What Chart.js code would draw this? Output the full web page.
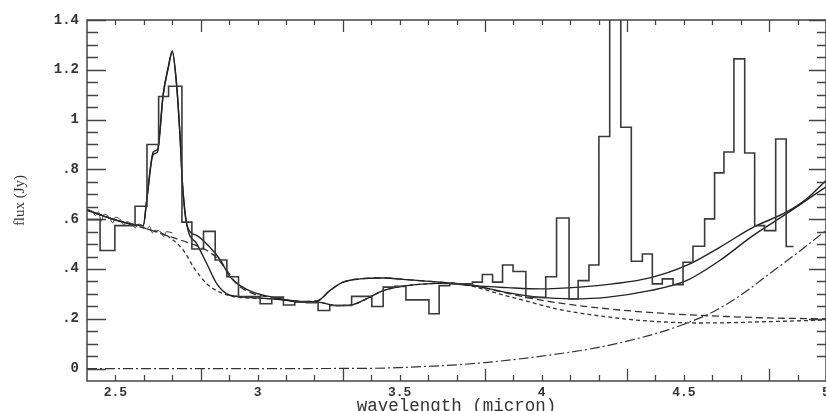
<!DOCTYPE html>
<html>
<head>
<meta charset="utf-8">
<script src="https://cdn.jsdelivr.net/npm/chart.js@4.4.1/dist/chart.umd.min.js"></script>
<style>
  html, body { margin: 0; padding: 0; background: #fff; overflow: hidden; }
  #wrap { width: 826px; height: 411px; position: relative; }
</style>
</head>
<body>
<div id="wrap"><canvas id="fluxChart"></canvas></div>
<script>
// binned spectrum: bin edges (micron) and flux per bin (Jy)
const binEdges = [2.400, 2.446, 2.498, 2.569, 2.611, 2.652, 2.687, 2.734, 2.769, 2.810,
  2.851, 2.892, 2.933, 3.009, 3.050, 3.091, 3.131, 3.172, 3.213, 3.254,
  3.331, 3.402, 3.442, 3.483, 3.522, 3.603, 3.639, 3.676, 3.756, 3.791,
  3.827, 3.862, 3.899, 3.944, 4.014, 4.052, 4.096, 4.128, 4.166, 4.201,
  4.239, 4.278, 4.315, 4.354, 4.389, 4.424, 4.462, 4.497, 4.532, 4.573,
  4.608, 4.641, 4.676, 4.714, 4.749, 4.784, 4.823, 4.860, 4.886];
const binFlux = [0.598, 0.474, 0.574, 0.652, 0.900, 1.093, 1.134, 0.588, 0.480, 0.551,
  0.436, 0.369, 0.289, 0.260, 0.287, 0.255, 0.268, 0.265, 0.233, 0.253,
  0.290, 0.249, 0.327, 0.330, 0.276, 0.220, 0.333, 0.340, 0.347, 0.378,
  0.347, 0.416, 0.390, 0.286, 0.369, 0.605, 0.280, 0.353, 0.416, 0.932,
  1.600, 0.969, 0.431, 0.460, 0.340, 0.360, 0.337, 0.427, 0.491, 0.601,
  0.786, 0.870, 1.244, 0.866, 0.574, 0.554, 0.922, 0.490];

// high resolution spectrum (short wavelength end)
const specWl = [2.40, 2.42, 2.43, 2.44, 2.45, 2.46, 2.48, 2.49, 2.50, 2.52, 2.53, 2.54,
  2.56, 2.57, 2.58, 2.60, 2.61, 2.62, 2.63, 2.64, 2.66, 2.67, 2.68, 2.70];
const specFlux = [0.640, 0.630, 0.615, 0.630, 0.592, 0.620, 0.605, 0.585, 0.608, 0.595, 0.575, 0.590,
  0.578, 0.565, 0.580, 0.570, 0.560, 0.572, 0.545, 0.555, 0.548, 0.530, 0.550, 0.545];

// model 1 (solid)
const model1Wl = [2.40, 2.47, 2.54, 2.598, 2.61, 2.633, 2.648, 2.668, 2.686, 2.700, 2.715, 2.727,
  2.736, 2.752, 2.787, 2.830, 2.869, 2.904, 2.939, 2.986, 3.056, 3.162, 3.213, 3.254,
  3.301, 3.360, 3.442, 3.536, 3.641, 3.758, 3.880, 3.993, 4.134, 4.251, 4.380, 4.509,
  4.626, 4.743, 4.860, 4.930, 5.00];
const model1Flux = [0.637, 0.608, 0.584, 0.574, 0.675, 0.870, 0.880, 1.100, 1.210, 1.277, 1.143, 0.940,
  0.740, 0.574, 0.534, 0.490, 0.436, 0.367, 0.333, 0.306, 0.286, 0.266, 0.273, 0.313,
  0.347, 0.360, 0.364, 0.356, 0.347, 0.333, 0.325, 0.320, 0.327, 0.340, 0.364, 0.414,
  0.487, 0.567, 0.628, 0.680, 0.755];

// model 2 (solid)
const model2Wl = [2.40, 2.47, 2.54, 2.598, 2.61, 2.633, 2.648, 2.668, 2.686, 2.700, 2.715, 2.727,
  2.736, 2.752, 2.787, 2.822, 2.857, 2.892, 2.939, 3.050, 3.149, 3.219, 3.278, 3.336,
  3.383, 3.442, 3.501, 3.594, 3.670, 3.758, 3.880, 3.993, 4.110, 4.227, 4.380, 4.509,
  4.626, 4.743, 4.860, 5.00];
const model2Flux = [0.637, 0.608, 0.584, 0.574, 0.675, 0.860, 0.870, 1.100, 1.210, 1.270, 1.143, 0.940,
  0.740, 0.574, 0.500, 0.420, 0.340, 0.300, 0.289, 0.280, 0.270, 0.266, 0.253, 0.257,
  0.280, 0.313, 0.329, 0.340, 0.343, 0.333, 0.305, 0.286, 0.280, 0.286, 0.313, 0.353,
  0.434, 0.534, 0.621, 0.730];

// continuum 1 (long dashes)
const cont1Wl = [2.40, 2.47, 2.54, 2.611, 2.681, 2.752, 2.822, 2.857, 2.892, 2.927, 2.986, 3.056,
  3.149, 3.213, 3.254, 3.301, 3.360, 3.442, 3.536, 3.641, 3.758, 3.85, 3.95, 4.05,
  4.15, 4.25, 4.35, 4.45, 4.55, 4.65, 4.75, 4.85, 5.00];
const cont1Flux = [0.637, 0.608, 0.584, 0.561, 0.534, 0.507, 0.474, 0.444, 0.394, 0.340, 0.300, 0.285,
  0.270, 0.273, 0.313, 0.347, 0.360, 0.364, 0.356, 0.347, 0.335, 0.310, 0.285, 0.265,
  0.250, 0.238, 0.228, 0.220, 0.214, 0.209, 0.205, 0.202, 0.200];

// continuum 2 (short dashes)
const cont2Wl = [2.40, 2.47, 2.54, 2.611, 2.681, 2.705, 2.740, 2.775, 2.822, 2.869, 2.916, 3.050,
  3.149, 3.219, 3.278, 3.336, 3.383, 3.442, 3.501, 3.594, 3.670, 3.758, 3.85, 3.95,
  4.05, 4.15, 4.25, 4.35, 4.45, 4.55, 4.65, 4.75, 4.85, 5.00];
const cont2Flux = [0.637, 0.608, 0.584, 0.561, 0.534, 0.514, 0.474, 0.407, 0.340, 0.306, 0.289, 0.280,
  0.270, 0.266, 0.253, 0.257, 0.280, 0.313, 0.329, 0.340, 0.343, 0.330, 0.300, 0.270,
  0.240, 0.220, 0.205, 0.193, 0.186, 0.183, 0.184, 0.187, 0.190, 0.195];

// rising component (dash-dot)
const riseWl = [2.40, 3.00, 3.40, 3.50, 3.60, 3.70, 3.80, 3.90, 4.00, 4.10, 4.20, 4.30,
  4.40, 4.50, 4.60, 4.70, 4.80, 4.90, 5.00];
const riseFlux = [0, 0, 0.001, 0.004, 0.009, 0.015, 0.024, 0.036, 0.050, 0.066, 0.085, 0.110,
  0.140, 0.178, 0.226, 0.295, 0.380, 0.465, 0.555];

const xTicks = [2.5, 3, 3.5, 4, 4.5, 5];
const yTicks = [0, 0.2, 0.4, 0.6, 0.8, 1, 1.2, 1.4];

const pts = (xs, ys) => xs.map((x, i) => ({x: x, y: ys[i]}));

const histPoints = binFlux.map((f, i) => ({x: binEdges[i], y: f}));
histPoints.push({x: binEdges[binEdges.length - 1], y: binFlux[binFlux.length - 1]});

const monoFont = "'Liberation Mono', 'DejaVu Sans Mono', monospace";
const ink = '#333';

function curve(data, width, dash, color) {
  return {
    data: data,
    borderColor: color || '#222',
    borderWidth: width,
    borderDash: dash || [],
    pointRadius: 0,
    fill: false,
    cubicInterpolationMode: 'monotone'
  };
}

// box with inward tick marks on all four sides
const frameTicks = {
  id: 'frameTicks',
  afterDatasetsDraw(chart) {
    const {ctx, chartArea: a, scales: {x, y}} = chart;
    ctx.save();
    ctx.strokeStyle = '#444';
    ctx.lineWidth = 1.5;
    ctx.strokeRect(a.left, a.top, a.right - a.left, a.bottom - a.top);
    ctx.lineWidth = 1.3;
    ctx.beginPath();
    for (let i = 1; i < 26; i++) {
      const v = 2.4 + i * 0.1;
      const major = (i + 1) % 5 === 0;
      const px = Math.round(x.getPixelForValue(v)) + 0.5;
      ctx.moveTo(px, a.bottom); ctx.lineTo(px, a.bottom - (major ? 12 : 6));
      ctx.moveTo(px, a.top); ctx.lineTo(px, a.top + (major ? 12 : 5));
    }
    for (let j = 1; j < 29; j++) {
      const v = j * 0.05;
      const major = j % 4 === 0;
      const py = Math.round(y.getPixelForValue(v)) + 0.5;
      ctx.moveTo(a.left, py); ctx.lineTo(a.left + (major ? 19 : 11), py);
      ctx.moveTo(a.right, py); ctx.lineTo(a.right - (major ? 17 : 9), py);
    }
    // zero level
    const py0 = Math.round(y.getPixelForValue(0)) + 0.5;
    ctx.moveTo(a.left, py0); ctx.lineTo(a.left + 19, py0);
    ctx.stroke();
    ctx.restore();
  }
};

new Chart(document.getElementById('fluxChart'), {
  type: 'line',
  data: {
    datasets: [
      {
        data: histPoints,
        stepped: 'before',
        borderColor: '#3a3a3a',
        borderWidth: 1.6,
        pointRadius: 0,
        fill: false
      },
      curve(pts(specWl, specFlux), 1, [], '#444'),
      curve(pts(model1Wl, model1Flux), 1.4),
      curve(pts(model2Wl, model2Flux), 1.4),
      curve(pts(cont1Wl, cont1Flux), 1.3, [7, 4], '#333'),
      curve(pts(cont2Wl, cont2Flux), 1.3, [4, 3], '#333'),
      curve(pts(riseWl, riseFlux), 1.2, [10, 3, 2, 3], '#333')
    ]
  },
  options: {
    responsive: true,
    maintainAspectRatio: false,
    animation: false,
    layout: { padding: { left: 0, right: -1, top: 20, bottom: 0 } },
    plugins: { legend: { display: false }, tooltip: { enabled: false } },
    scales: {
      x: {
        type: 'linear',
        min: 2.4,
        max: 5.0,
        grid: { display: false, drawTicks: false },
        border: { display: false },
        afterBuildTicks: s => { s.ticks = xTicks.map(v => ({value: v})); },
        ticks: {
          color: ink,
          padding: 4,
          maxRotation: 0,
          autoSkip: false,
          font: { family: monoFont, size: 13, weight: 'bold' },
          callback: v => String(v)
        },
        title: {
          display: true,
          text: 'wavelength (micron)',
          color: ink,
          font: { family: monoFont, size: 17.5 },
          padding: { top: 0, bottom: -6 }
        },
        afterFit: s => { s.height = 30; s.paddingLeft = 0; s.paddingRight = 0; }
      },
      y: {
        min: -0.05,
        max: 1.4,
        grid: { display: false, drawTicks: false },
        border: { display: false },
        afterBuildTicks: s => { s.ticks = yTicks.map(v => ({value: v})); },
        ticks: {
          color: ink,
          padding: 8,
          autoSkip: false,
          font: { family: monoFont, size: 14, weight: 'bold' },
          callback: v => {
            if (Math.abs(v) < 1e-9) return '0';
            if (Math.abs(v - 1) < 1e-9) return '1';
            if (v < 1) return '.' + Math.round(v * 10);
            return v.toFixed(1);
          }
        },
        title: {
          display: true,
          text: 'flux (Jy)',
          color: ink,
          font: { family: "'Liberation Serif', serif", size: 15 },
          padding: { top: 11, bottom: 0 }
        },
        afterFit: s => { s.width = 87; s.paddingTop = 0; s.paddingBottom = 0; }
      }
    }
  },
  plugins: [frameTicks]
});
</script>
</body>
</html>
